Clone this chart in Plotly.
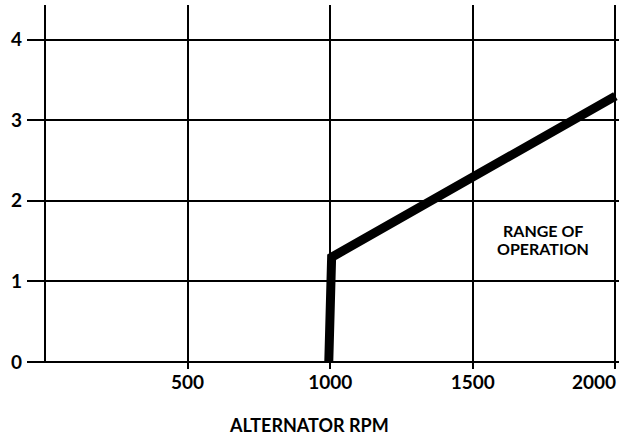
import plotly.graph_objects as go

# Data
rpm = [995, 1005, 2000]
output = [0, 1.3, 3.3]
x_ticks = [0, 500, 1000, 1500, 2000]
x_tick_labels = ["", "500", "1000", "1500", "2000"]
y_ticks = [0, 1, 2, 3, 4]
y_tick_labels = ["0", "1", "2", "3", "4"]
region_lines = ["RANGE OF", "OPERATION"]
region_pos = (1745, 1.52)
x_title = "ALTERNATOR RPM"

FONT = "Lato, 'Open Sans', sans-serif"

fig = go.Figure()
fig.add_trace(go.Scatter(
    x=rpm, y=output, mode="lines",
    line=dict(color="black", width=9),
    showlegend=False, hoverinfo="skip",
))

# left boundary line at x = 0 (stops at the 0 line)
fig.add_shape(
    type="line", xref="x", yref="y",
    x0=x_ticks[0], x1=x_ticks[0], y0=y_ticks[0], y1=4.43,
    line=dict(color="black", width=2), layer="below",
)

# region label (two lines, tight spacing)
for i, txt in enumerate(region_lines):
    fig.add_annotation(
        x=region_pos[0], y=region_pos[1], yshift=9 - 18 * i,
        text="<b>" + txt + "</b>", showarrow=False,
        font=dict(family=FONT, size=16, color="black"),
        xanchor="center", yanchor="middle",
    )

# last x tick label pulled inside the page, like the reference
fig.add_annotation(
    x=x_ticks[-1], y=0, yref="paper", yanchor="middle", xanchor="right",
    xshift=3, yshift=-12, text="<b>" + x_tick_labels[-1] + "</b>",
    showarrow=False, font=dict(family=FONT, size=19, color="black"),
)

# x axis title
fig.add_annotation(
    x=0.476, xref="paper", y=0, yref="paper", yshift=-56,
    xanchor="center", yanchor="middle",
    text="<b>" + x_title + "</b>", showarrow=False,
    font=dict(family=FONT, size=18, color="black"),
)

tick_text = x_tick_labels[:-1] + [""]

fig.update_layout(
    width=619, height=436,
    margin=dict(l=27, r=0, t=5, b=67),
    paper_bgcolor="white", plot_bgcolor="white",
    font=dict(family=FONT, size=18, color="black"),
    xaxis=dict(
        range=[-63.1, 2012.6], tickvals=x_ticks[1:], ticktext=tick_text[1:],
        showgrid=True, gridcolor="black", gridwidth=2,
        zeroline=False, showline=False, ticks="",
        tickfont=dict(family=FONT, size=19, color="black", weight="bold"),
        automargin=False, fixedrange=True,
    ),
    yaxis=dict(
        range=[-0.087, 4.43], tickvals=y_ticks, ticktext=y_tick_labels,
        showgrid=True, gridcolor="black", gridwidth=2,
        zeroline=False, showline=False, ticks="", ticklabelstandoff=4,
        tickfont=dict(family=FONT, size=19, color="black", weight="bold"),
        automargin=False, fixedrange=True,
    ),
)

fig.write_html(
    "out.html",
    config={"displayModeBar": False, "staticPlot": True},
    post_script="document.body.style.margin='0';",
)
